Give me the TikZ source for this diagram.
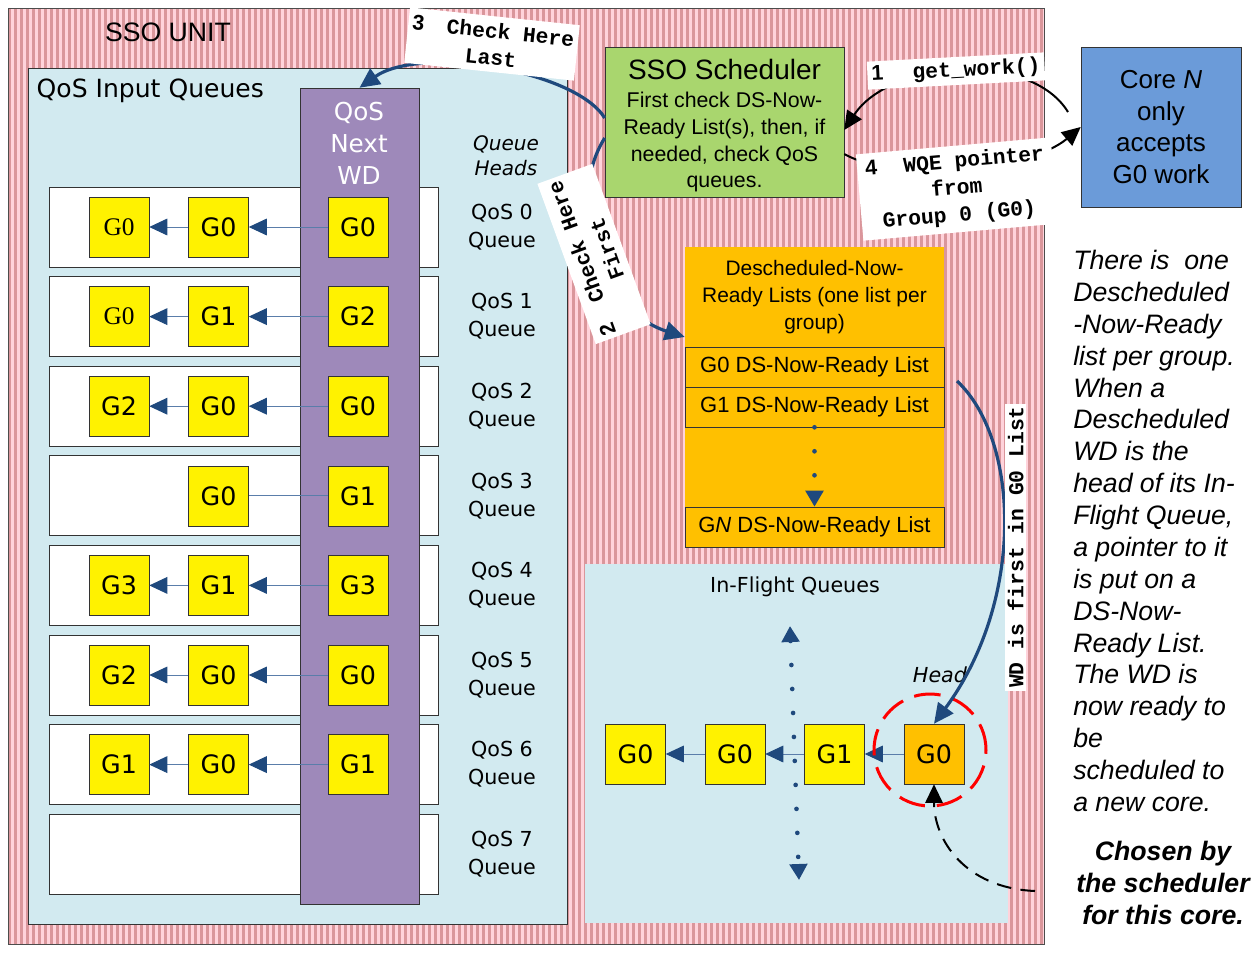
\documentclass[tikz,border=0pt]{standalone}
\usepackage{fontspec}
\setmainfont{Liberation Sans}
\setsansfont{Liberation Sans}
\setmonofont{Liberation Mono}
\newfontfamily\lgfont{DejaVu Sans}
\newfontfamily\serfont{Liberation Serif}
\usetikzlibrary{arrows.meta}
\definecolor{stripelt}{HTML}{FFD3DB}
\definecolor{stripedk}{HTML}{DA969B}
\definecolor{qcyan}{HTML}{D2EAF0}
\definecolor{qpurple}{HTML}{9E89BA}
\definecolor{dsorange}{HTML}{FFC000}
\definecolor{schedgreen}{HTML}{A9D66E}
\definecolor{coreblue}{HTML}{6B9BD9}
\definecolor{arcblue}{HTML}{1F497D}
\definecolor{linkblue}{HTML}{5A7DAA}
\begin{document}
\begin{tikzpicture}[x=0.75pt, y=-0.75pt,
  gbox/.style={draw=black!80, fill=yellow, minimum size=45pt, inner sep=0pt, font=\lgfont\fontsize{19}{22}\selectfont},
  qlink/.style={draw=linkblue, line width=0.75pt, -{Triangle[length=13.5pt,width=12.5pt,color=arcblue]}},
  qlabel/.style={align=center, font=\lgfont\fontsize{15.5}{21}\selectfont},
  numtag/.style={fill=white, inner sep=3pt, align=center, font=\ttfamily\bfseries\fontsize{16}{20}\selectfont},
  bigarc/.style={draw=arcblue, line width=2.4pt, -{Triangle[length=15pt,width=14pt]}},
  blackarc/.style={draw=black, line width=1.5pt, -{Triangle[length=14pt,width=13pt]}},
  dotarc/.style={draw=arcblue, line width=3.5pt, line cap=round, dash pattern=on 0pt off 18pt},
  dslist/.style={draw=black!80, fill=dsorange, minimum width=194.25pt, minimum height=30pt, inner sep=0pt, font=\fontsize{16.5}{20}\selectfont}]
  \useasboundingbox (0,0) rectangle (1257,958);
  \fill[stripelt] (8,8) rectangle (1044,944);
  \foreach \x in {8,14,...,1040} \fill[stripedk] (\x,8) rectangle (\x+3,944);
  \draw[black!70, line width=0.75pt] (8,8) rectangle (1044,944);
  \node[font=\fontsize{20}{24}\selectfont] (unit) at (168,32) {SSO UNIT};

  \draw[black!80, fill=qcyan, line width=0.75pt] (28,68) rectangle (567,924);
  \node[anchor=west, font=\lgfont\fontsize{18.8}{22}\selectfont] (qin) at (32,91) {QoS Input Queues};
  \node[align=center, font=\lgfont\itshape\fontsize{15}{19}\selectfont] (qheads) at (506,156) {Queue\\Heads};
  \foreach \k in {0,...,7} {
    \draw[black!80, fill=white, line width=0.75pt] (49,{187+89.6*\k}) rectangle (438,{267+89.6*\k});
    \node[qlabel] (ql\k) at (502,{227+89.6*\k}) {QoS \k\\Queue};
  }
  \node[draw=black!80, fill=qpurple, minimum width=89.25pt, minimum height=612pt, inner sep=0pt] (next) at (359.5,496) {};
  \node[text=white, align=center, font=\lgfont\fontsize{18.5}{24}\selectfont] (nextwd) at (359,143) {QoS\\Next\\WD};
  \foreach \k/\a/\b/\h in {0/{\serfont G0}/G0/G0, 1/{\serfont G0}/G1/G2, 2/G2/G0/G0, 4/G3/G1/G3, 5/G2/G0/G0, 6/G1/G0/G1} {
    \node[gbox] (h\k) at (358,{227+89.6*\k}) {\h};
    \node[gbox] (b\k) at (218.5,{227+89.6*\k}) {\b};
    \node[gbox] (a\k) at (119,{227+89.6*\k}) {\a};
    \draw[qlink] (h\k) -- (b\k);
    \draw[qlink] (b\k) -- (a\k);
  }
  \node[gbox] (h3) at (358,{227+89.6*3}) {G1};
  \node[gbox] (b3) at (218.5,{227+89.6*3}) {G0};
  \draw[draw=linkblue, line width=0.75pt] (h3) -- (b3);

  \node[draw=black!80, fill=schedgreen, minimum width=179.25pt, minimum height=112.5pt, inner sep=0pt] (sched) at (724.5,122) {};
  \node[align=center, inner sep=0pt, font=\fontsize{16}{20}\selectfont] (schedtxt) at (724.5,126) {{\fontsize{21}{25}\selectfont SSO Scheduler}\\[1pt]First check DS-Now-\\Ready List(s), then, if\\needed, check QoS\\queues.};
  \node[draw=black!80, fill=coreblue, minimum width=120pt, minimum height=120pt, align=center, font=\fontsize{19.5}{23.8}\selectfont] (core) at (1161,127) {Core \textit{N}\\only\\accepts\\G0 work};

  \node[fill=dsorange, minimum width=194.25pt, minimum height=225pt, inner sep=0pt] (dsnr) at (814.5,397) {};
  \node[align=center, font=\fontsize{15.7}{20}\selectfont] (dshead) at (814.5,297) {Descheduled-Now-\\Ready Lists (one list per\\group)};
  \node[dslist] (ds0) at (814.5,367) {G0 DS-Now-Ready List};
  \node[dslist] (ds1) at (814.5,407) {G1 DS-Now-Ready List};
  \node[dslist] (dsn) at (814.5,527) {G\textit{N} DS-Now-Ready List};
  \draw[dotarc, -{Triangle[length=12pt,width=13pt]}] (ds1.south) -- (dsn.north);

  \fill[qcyan] (585,564) rectangle (1008,923);
  \node[font=\lgfont\fontsize{15.5}{19}\selectfont] (ifq) at (795,587) {In-Flight Queues};
  \coordinate (vtop) at (790,626);
  \coordinate (vbot) at (799,880);
  \draw[dotarc, {Triangle[length=12pt,width=13pt]}-{Triangle[length=12pt,width=13pt]}] (vtop) -- (vbot);
  \node[gbox] (f1) at (635.5,754) {G0};
  \node[gbox] (f2) at (735,754) {G0};
  \node[gbox] (f3) at (834.5,754) {G1};
  \node[gbox, fill=dsorange] (f4) at (934,754) {G0};
  \draw[qlink] (f4) -- (f3);
  \draw[qlink] (f3) -- (f2);
  \draw[qlink] (f2) -- (f1);
  \draw[red, line width=2.25pt, dash pattern=on 20pt off 9pt] (930,750) circle (42pt);
  \node[font=\lgfont\itshape\fontsize{15.5}{19}\selectfont] (head) at (940,675) {Head};
  \coordinate (pick) at (1035,891);
  \draw[blackarc, dash pattern=on 11pt off 7pt] (pick) .. controls (965,888) and (934,840) .. (f4.south);

  \coordinate (wdfrom) at (957,381);
  \draw[bigarc] (wdfrom) .. controls (1020,440) and (1025,600) .. (f4.north);
  \draw[bigarc] ([yshift=3pt]sched.west) .. controls (575,70) and (420,45) .. (next.north);
  \draw[bigarc] ([yshift=-12pt]sched.west) .. controls (565,200) and (600,310) .. ([yshift=45pt]dsnr.west);
  \coordinate (gwfrom) at (1068,112);
  \draw[blackarc] (gwfrom) .. controls (1030,50) and (890,60) .. ([yshift=-6pt]sched.east);
  \draw[blackarc] ([yshift=-24pt]sched.east) .. controls (900,185) and (1030,170) .. (core.west);

  \node[numtag, rotate=3] (lab1) at (956,71) {\textsf{1}\hspace{22pt}get\_work()};
  \node[numtag, rotate=110, inner ysep=6pt] (lab2) at (594,254) {\textsf{2}\hspace{17pt}Check Here\\First};
  \node[numtag, rotate=-6, inner ysep=5pt] (lab3) at (492,44) {\textsf{3}\hspace{17pt}Check Here\\Last};
  \node[numtag, rotate=5, inner xsep=6pt, inner ysep=5pt] (lab4) at (957,189) {\textsf{4}\hspace{20pt}WQE pointer\\from\\Group 0 (G0)};
  \node[numtag, rotate=90, inner sep=2pt] (lab5) at (1015.5,547) {WD is first in G0 List};

  \node[anchor=north west, align=left, inner sep=0pt, font=\itshape\fontsize{20}{23.9}\selectfont] (note) at (1073,250) {There is~ one\\Descheduled\\-Now-Ready\\list per group.\\When a\\Descheduled\\WD is the\\head of its In-\\Flight Queue,\\a pointer to it\\is put on a\\DS-Now-\\Ready List.\\The WD is\\now ready to\\be\\scheduled to\\a new core.};
  \node[align=center, font=\bfseries\itshape\fontsize{20}{23.9}\selectfont] (chosen) at (1163,883) {Chosen by\\the scheduler\\for this core.};
\end{tikzpicture}
\end{document}
